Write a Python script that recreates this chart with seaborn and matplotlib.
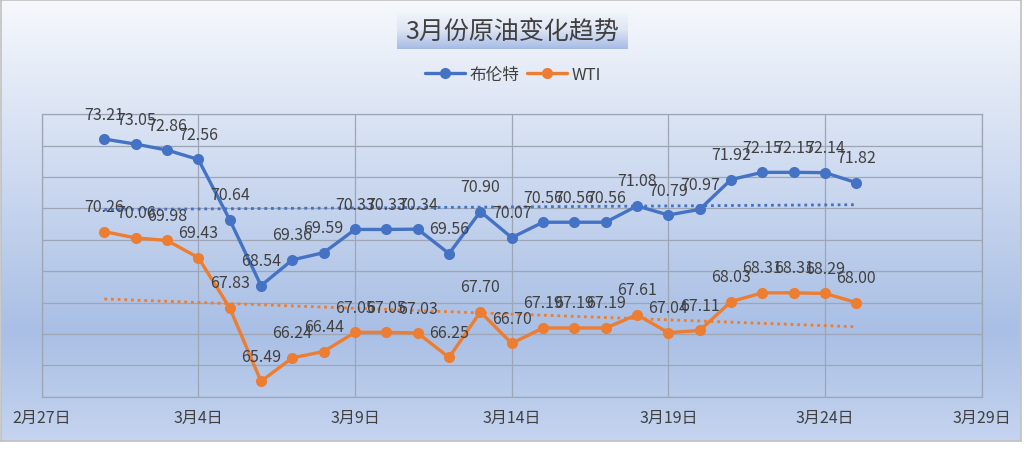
import numpy as np
import pandas as pd
import matplotlib
matplotlib.use("Agg")
import matplotlib.pyplot as plt
import matplotlib.dates as mdates
from matplotlib.colors import LinearSegmentedColormap
from matplotlib.lines import Line2D
import seaborn as sns

# data (daily, 3/1 .. 3/25)
dates = pd.date_range("2021-03-01", "2021-03-25", freq="D")
brent = [73.21, 73.05, 72.86, 72.56, 70.64, 68.54, 69.36, 69.59, 70.33, 70.33,
         70.34, 69.56, 70.90, 70.07, 70.56, 70.56, 70.56, 71.08, 70.79, 70.97,
         71.92, 72.15, 72.15, 72.14, 71.82]
wti = [70.26, 70.06, 69.98, 69.43, 67.83, 65.49, 66.24, 66.44, 67.05, 67.05,
       67.03, 66.25, 67.70, 66.70, 67.19, 67.19, 67.19, 67.61, 67.04, 67.11,
       68.03, 68.31, 68.31, 68.29, 68.00]
series_names = ["布伦特", "WTI"]
colors = ["#4472C4", "#ED7D31"]
tick_dates = pd.date_range("2021-02-27", "2021-03-29", freq="5D")
title = "3月份原油变化趋势"

sns.set_theme(style="white")
plt.rcParams["font.family"] = ["Noto Sans CJK SC", "DejaVu Sans"]

W, H = 1026, 456
fig = plt.figure(figsize=(W / 100, H / 100), dpi=100)
fig.patch.set_facecolor("white")

# chart area background gradient
bg = fig.add_axes([1 / W, 1 - 442 / H, 1020 / W, 441 / H])
bg_cmap = LinearSegmentedColormap.from_list(
    "bg", [(0, "#f6f8fc"), (0.75, "#a9bfe5"), (1, "#c5d4ef")])
bg.imshow(np.linspace(0, 1, 256).reshape(-1, 1), aspect="auto", cmap=bg_cmap)
bg.set_xticks([])
bg.set_yticks([])
for s in bg.spines.values():
    s.set_color("#c0c0c0")
    s.set_linewidth(1.2)

# title box with its own gradient
tb = fig.add_axes([397 / W, 1 - 50 / H, 231 / W, 36 / H])
tb_cmap = LinearSegmentedColormap.from_list(
    "tb", [(0, "#f0f3fa"), (0.45, "#dfe6f4"), (1, "#a6bbe5")])
tb.imshow(np.linspace(0, 1, 64).reshape(-1, 1), aspect="auto", cmap=tb_cmap)
tb.set_axis_off()
fig.text(512 / W, 1 - 32 / H, title, ha="center", va="center",
         fontsize=18, color="#404040")

# main plot
ax = fig.add_axes([41.7 / W, 1 - 397.7 / H, 940 / W, 282.4 / H])
ax.patch.set_alpha(0)

df = pd.DataFrame({"date": dates, series_names[0]: brent, series_names[1]: wti})
long = df.melt(id_vars="date", var_name="series", value_name="price")
sns.lineplot(data=long, x="date", y="price", hue="series",
             palette=dict(zip(series_names, colors)), marker="o",
             markersize=8, markeredgewidth=0, linewidth=2.4,
             legend=False, ax=ax, zorder=3)

# linear trend lines
xn = mdates.date2num(dates)
for vals, c in zip([brent, wti], colors):
    coef = np.polyfit(xn, vals, 1)
    ax.plot(dates, np.polyval(coef, xn), linestyle=(0, (1, 1.4)),
            color=c, linewidth=2, zorder=2)

# data labels
for vals in [brent, wti]:
    for d, v in zip(xn, vals):
        ax.annotate(f"{v:.2f}", (d, v), xytext=(0, 18), textcoords="offset points",
                    ha="center", va="center", fontsize=11.5, color="#404040", zorder=4)

ax.set_xlim(tick_dates[0], tick_dates[-1])
ax.set_ylim(65, 74)
ax.set_yticks(range(65, 75))
ax.set_yticklabels([])
ax.set_xticks(tick_dates)
ax.set_xticklabels([f"{d.month}月{d.day}日" for d in tick_dates])
ax.tick_params(length=0, pad=9, labelsize=11.5, labelcolor="#404040")
ax.grid(True, color="#9ea6b6", linewidth=0.9)
for s in ax.spines.values():
    s.set_color("#9ea6b6")
    s.set_linewidth(0.9)
ax.set_xlabel("")
ax.set_ylabel("")

handles = [Line2D([], [], color=c, marker="o", markersize=8, markeredgewidth=0,
                  linewidth=2.4) for c in colors]
fig.legend(handles, series_names, loc="center", bbox_to_anchor=(0.5, 1 - 75 / H),
           ncol=2, frameon=False, fontsize=12, handlelength=2.4,
           handletextpad=0.3, columnspacing=0.4, labelcolor="#404040")

fig.savefig("out.png", dpi=100, facecolor=fig.get_facecolor())
